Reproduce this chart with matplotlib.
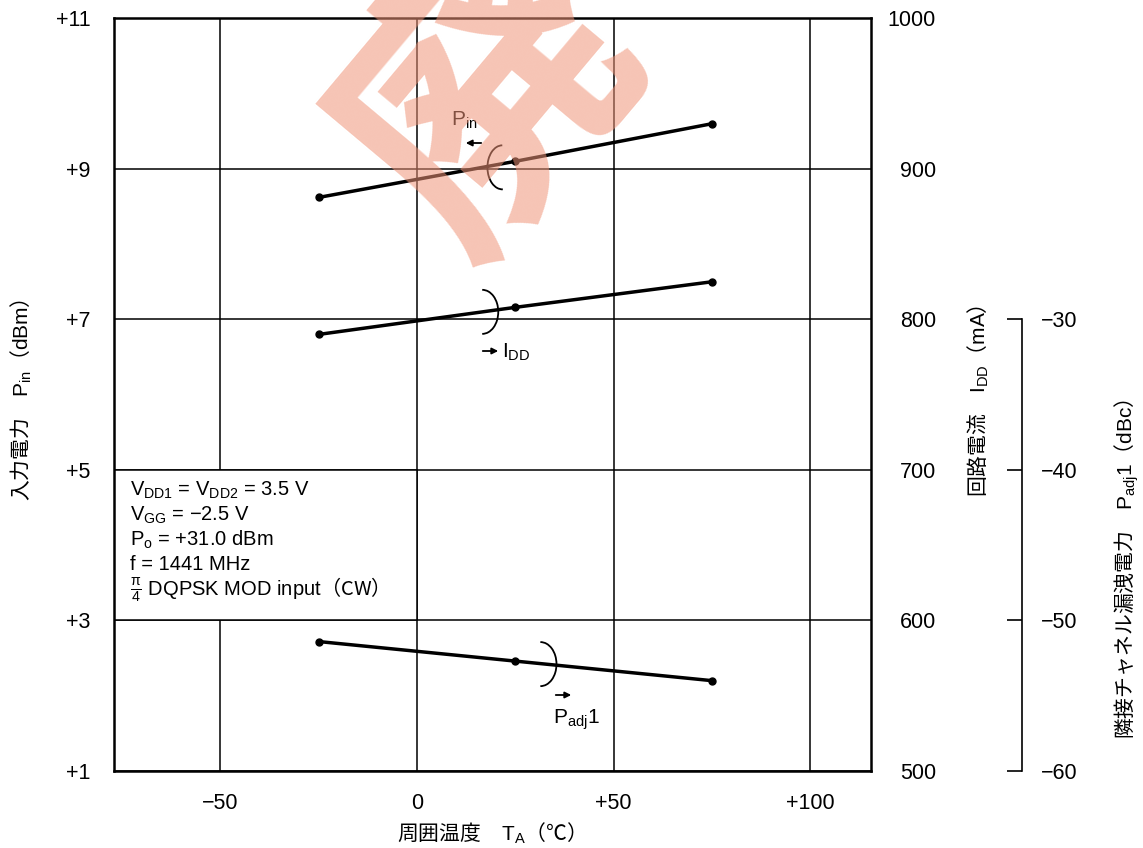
import matplotlib
matplotlib.use('Agg')
import matplotlib.pyplot as plt
from matplotlib.patches import Arc, Rectangle

plt.rcParams['font.family'] = ['Liberation Sans', 'Noto Sans CJK JP', 'DejaVu Sans']
plt.rcParams['mathtext.fontset'] = 'custom'
plt.rcParams['mathtext.rm'] = 'Liberation Sans'
plt.rcParams['mathtext.it'] = 'Liberation Sans'
plt.rcParams['mathtext.sf'] = 'Liberation Sans'
plt.rcParams['mathtext.default'] = 'regular'

# data
temps = [-25, 25, 75]
pin = [8.62, 9.10, 9.60]        # dBm
idd = [790, 808, 825]           # mA
padj = [-51.4, -52.7, -54.0]    # dBc

x_ticks = [-50, 0, 50, 100]
x_labels = ['−50', '0', '+50', '+100']
pin_ticks = [1, 3, 5, 7, 9, 11]
pin_labels = ['+1', '+3', '+5', '+7', '+9', '+11']
idd_ticks = [500, 600, 700, 800, 900, 1000]
padj_ticks = [-60, -50, -40, -30]
padj_labels = ['−60', '−50', '−40', '−30']

W, H = 1143, 848
fig = plt.figure(figsize=(W / 100, H / 100), dpi=100)
CJK = ['Noto Sans CJK JP']


def px(x, y):
    return x / W, 1 - y / H


ax = fig.add_axes([114 / W, 1 - 771 / H, (870.7 - 114) / W, (771 - 18.3) / H])
ax.set_xlim(-77, 115.3)
ax.set_ylim(1, 11)
ax.set_xticks(x_ticks)
ax.set_xticklabels(x_labels)
ax.set_yticks(pin_ticks)
ax.set_yticklabels(pin_labels)
ax.tick_params(length=0, labelsize=15.5)
ax.tick_params(axis='y', pad=17)
ax.tick_params(axis='x', pad=16)
ax.grid(True, color='black', lw=1.1)
ax.set_axisbelow(True)
for s in ax.spines.values():
    s.set_linewidth(1.8)

# condition box (covers one grid cell)
ax.add_patch(Rectangle((-77, 3), 77, 2, facecolor='white', edgecolor='black',
                       lw=1.1, zorder=1))

ax.plot(temps, pin, color='black', lw=2.5, marker='o', ms=5, zorder=3)

# IDD axis
ax2 = ax.twinx()
ax2.set_ylim(500, 1000)
ax2.set_yticks(idd_ticks)
ax2.tick_params(length=0, labelsize=15.5, pad=47)
for lab in ax2.get_yticklabels():
    lab.set_ha('right')
for s in ax2.spines.values():
    s.set_visible(False)
ax2.plot(temps, idd, color='black', lw=2.5, marker='o', ms=5, zorder=3)

# Padj axis
ax3 = ax.twinx()
ax3.set_ylim(-60, -10)
for k in ['left', 'top', 'bottom']:
    ax3.spines[k].set_visible(False)
ax3.spines['right'].set_position(('axes', (1021.7 - 114) / (870.7 - 114)))
ax3.spines['right'].set_bounds(-60, -30)
ax3.spines['right'].set_linewidth(1.2)
ax3.set_yticks(padj_ticks)
ax3.set_yticklabels(padj_labels)
ax3.tick_params(direction='in', length=10.5, width=1.2, labelsize=15.5, pad=14)
ax3.plot(temps, padj, color='black', lw=2.5, marker='o', ms=5, zorder=3)

# curve markers
ax.add_patch(Arc((21.7, 9.02), 7.6, 0.585, theta1=95, theta2=290, lw=1.3, color='black', zorder=4))
ax.add_patch(Arc((16.6, 7.10), 8.1, 0.585, theta1=-95, theta2=95, lw=1.3, color='black', zorder=4))
ax.add_patch(Arc((31.4, 2.42), 8.1, 0.585, theta1=-100, theta2=100, lw=1.3, color='black', zorder=4))

arrow = dict(arrowstyle='-|>', color='black', lw=1.3, mutation_scale=9)
ax.annotate('', xy=px(463, 143), xytext=px(484, 143), xycoords='figure fraction',
            textcoords='figure fraction', arrowprops=arrow)
ax.annotate('', xy=px(501, 351), xytext=px(480, 351), xycoords='figure fraction',
            textcoords='figure fraction', arrowprops=arrow)
ax.annotate('', xy=px(574, 695), xytext=px(553, 695), xycoords='figure fraction',
            textcoords='figure fraction', arrowprops=arrow)
fig.text(*px(451, 120), '$P_{in}$', fontsize=15, ha='left', va='center')
fig.text(*px(502, 352), '$I_{DD}$', fontsize=15, ha='left', va='center')
fig.text(*px(553, 720), '$P_{adj}$1', fontsize=15, ha='left', va='center')

# conditions
cond = ['$V_{DD1}$ = $V_{DD2}$ = 3.5 V',
        '$V_{GG}$ = −2.5 V',
        '$P_o$ = +31.0 dBm',
        'f = 1441 MHz']
for i, line in enumerate(cond):
    fig.text(*px(130, 490 + 25 * i), line, fontsize=14.5, ha='left', va='center')
fig.text(*px(130, 590), r'$\mathsf{\frac{\pi}{4}\ DQPSK\ MOD\ input}$（CW）',
         fontsize=14.5, family=CJK, ha='left', va='center')

# axis titles (CJK text font, Latin parts through mathtext sans)
fig.text(*px(21, 400), r'入力電力　$\mathsf{P_{in}}$（$\mathsf{dBm}$）', fontsize=15,
         family=CJK, rotation=90, ha='center', va='center')
fig.text(*px(978, 401), r'回路電流　$\mathsf{I_{DD}}$（$\mathsf{mA}$）', fontsize=15,
         family=CJK, rotation=90, ha='center', va='center')
fig.text(*px(1127, 569), r'隣接チャネル漏洩電力　$\mathsf{P_{adj}1}$（$\mathsf{dBc}$）',
         fontsize=15, family=CJK, rotation=90, ha='center', va='center')
fig.text(*px(486, 833), r'周囲温度　$\mathsf{T_A}$（℃）', fontsize=15, family=CJK,
         ha='center', va='center')

# watermark
fig.text(*px(492, 102), '廃', fontsize=205, fontweight='bold', rotation=50,
         family=CJK, color='#f09478', alpha=0.55,
         ha='center', va='center', rotation_mode='anchor', zorder=10)

fig.savefig('out.png', dpi=100)
